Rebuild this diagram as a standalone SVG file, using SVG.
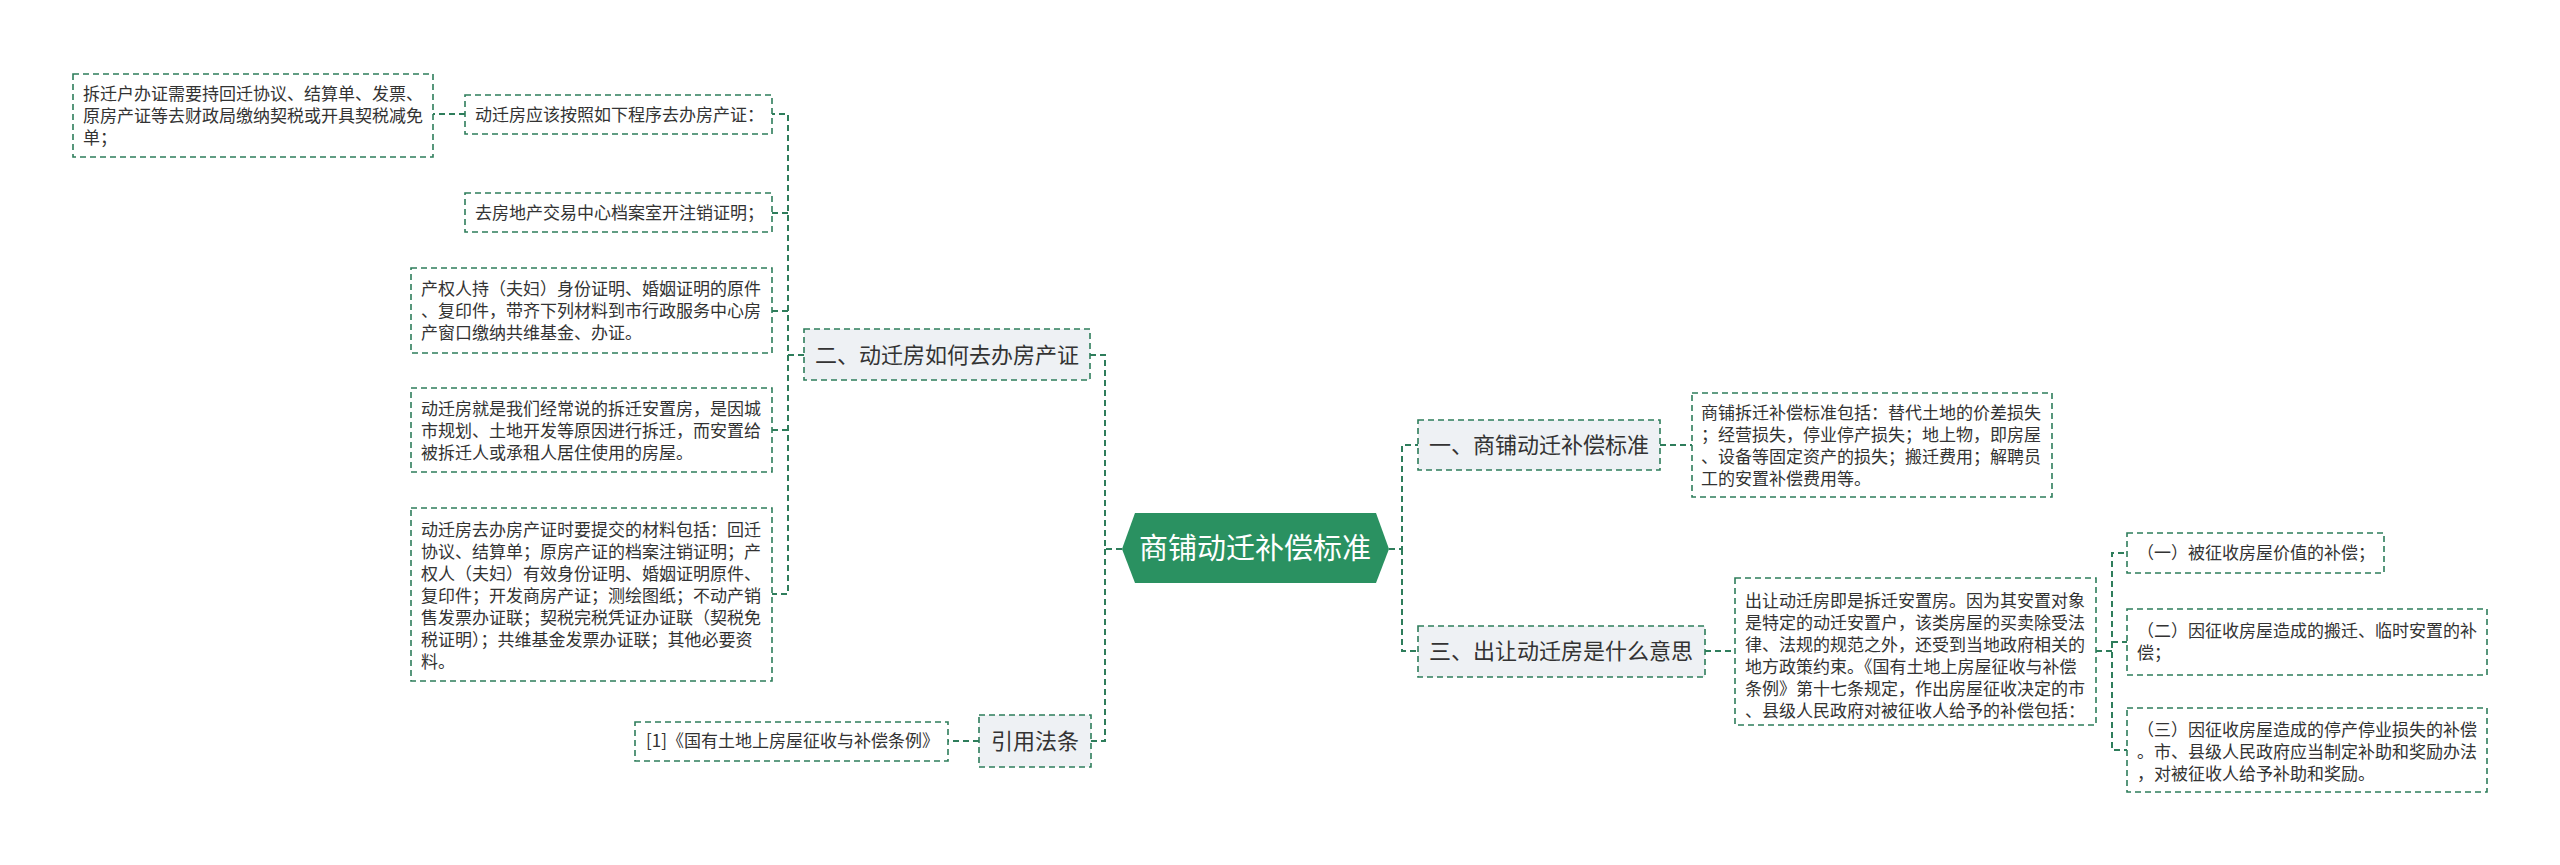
<svg xmlns="http://www.w3.org/2000/svg" width="2560" height="865" viewBox="0 0 2560 865">
<style>
text{font-family:"Noto Sans CJK SC","Noto Sans",sans-serif;fill:#333}
.leaf{fill:#fff;stroke:#2e7d5b;stroke-width:1.6;stroke-dasharray:6 4}
.sub{fill:#eef1f4;stroke:#2e7d5b;stroke-width:1.6;stroke-dasharray:6 4}
.conn{fill:none;stroke:#2e7d5b;stroke-width:2;stroke-dasharray:6 4}
.t17{font-size:17px}
.t22{font-size:22px}
.root{font-size:29px;fill:#fff}
</style>
<rect width="2560" height="865" fill="#fff"/>
<g id="connectors">
<path class="conn" d="M1122,549 H1105 V355 H1090"/>
<path class="conn" d="M1105,549 V741 H1091"/>
<path class="conn" d="M1389,549 H1402 V445 H1418"/>
<path class="conn" d="M1402,549 V651 H1418"/>
<path class="conn" d="M804,355 H788 V114 H772"/>
<path class="conn" d="M788,213 H772 M788,311 H772 M788,430 H772"/>
<path class="conn" d="M788,355 V594 H772"/>
<path class="conn" d="M465,114 H433"/>
<path class="conn" d="M979,741 H948"/>
<path class="conn" d="M1660,445 H1692"/>
<path class="conn" d="M1705,651 H1735"/>
<path class="conn" d="M2096,651 H2112 V553 H2127"/>
<path class="conn" d="M2112,642 H2127"/>
<path class="conn" d="M2112,642 V750 H2127"/>
</g>
<g id="root">
<polygon points="1122,549 1135,513 1376,513 1389,549 1376,583 1135,583" fill="#2a9161"/>
<text class="root" x="1255" y="559" text-anchor="middle">商铺动迁补偿标准</text>
</g>
<g id="n2">
<rect class="sub" x="804" y="329" width="286" height="51"/>
<text class="t22" x="947" y="363" text-anchor="middle">二、动迁房如何去办房产证</text>
</g>
<g id="ncite">
<rect class="sub" x="979" y="715" width="112" height="52"/>
<text class="t22" x="1035" y="749" text-anchor="middle">引用法条</text>
</g>
<g id="n1">
<rect class="sub" x="1418" y="420" width="242" height="50"/>
<text class="t22" x="1539" y="453" text-anchor="middle">一、商铺动迁补偿标准</text>
</g>
<g id="n3">
<rect class="sub" x="1418" y="626" width="287" height="51"/>
<text class="t22" x="1561" y="659" text-anchor="middle">三、出让动迁房是什么意思</text>
</g>
<g id="leaf0">
<rect class="leaf" x="73" y="74" width="360" height="83"/>
<text class="t17" x="83" y="100">拆迁户办证需要持回迁协议、结算单、发票、</text>
<text class="t17" x="83" y="122">原房产证等去财政局缴纳契税或开具契税减免</text>
<text class="t17" x="83" y="144">单；</text>
</g>
<g id="leaf1">
<rect class="leaf" x="465" y="95" width="307" height="39"/>
<text class="t17" x="475" y="121">动迁房应该按照如下程序去办房产证：</text>
</g>
<g id="leaf2">
<rect class="leaf" x="465" y="193" width="307" height="39"/>
<text class="t17" x="475" y="219">去房地产交易中心档案室开注销证明；</text>
</g>
<g id="leaf3">
<rect class="leaf" x="411" y="268" width="361" height="85"/>
<text class="t17" x="421" y="295">产权人持（夫妇）身份证明、婚姻证明的原件</text>
<text class="t17" x="421" y="317">、复印件，带齐下列材料到市行政服务中心房</text>
<text class="t17" x="421" y="339">产窗口缴纳共维基金、办证。</text>
</g>
<g id="leaf4">
<rect class="leaf" x="411" y="388" width="361" height="84"/>
<text class="t17" x="421" y="415">动迁房就是我们经常说的拆迁安置房，是因城</text>
<text class="t17" x="421" y="437">市规划、土地开发等原因进行拆迁，而安置给</text>
<text class="t17" x="421" y="459">被拆迁人或承租人居住使用的房屋。</text>
</g>
<g id="leaf5">
<rect class="leaf" x="411" y="508" width="361" height="173"/>
<text class="t17" x="421" y="536">动迁房去办房产证时要提交的材料包括：回迁</text>
<text class="t17" x="421" y="558">协议、结算单；原房产证的档案注销证明；产</text>
<text class="t17" x="421" y="580">权人（夫妇）有效身份证明、婚姻证明原件、</text>
<text class="t17" x="421" y="602">复印件；开发商房产证；测绘图纸；不动产销</text>
<text class="t17" x="421" y="624">售发票办证联；契税完税凭证办证联（契税免</text>
<text class="t17" x="421" y="646">税证明）；共维基金发票办证联；其他必要资</text>
<text class="t17" x="421" y="668">料。</text>
</g>
<g id="leafcite">
<rect class="leaf" x="635" y="722" width="313" height="39"/>
<text class="t17" x="646" y="747">[1]《国有土地上房屋征收与补偿条例》</text>
</g>
<g id="leafA">
<rect class="leaf" x="1692" y="393" width="360" height="104"/>
<text class="t17" x="1701" y="419">商铺拆迁补偿标准包括：替代土地的价差损失</text>
<text class="t17" x="1701" y="441">；经营损失，停业停产损失；地上物，即房屋</text>
<text class="t17" x="1701" y="463">、设备等固定资产的损失；搬迁费用；解聘员</text>
<text class="t17" x="1701" y="485">工的安置补偿费用等。</text>
</g>
<g id="leafB">
<rect class="leaf" x="1735" y="578" width="361" height="147"/>
<text class="t17" x="1745" y="607">出让动迁房即是拆迁安置房。因为其安置对象</text>
<text class="t17" x="1745" y="629">是特定的动迁安置户，该类房屋的买卖除受法</text>
<text class="t17" x="1745" y="651">律、法规的规范之外，还受到当地政府相关的</text>
<text class="t17" x="1745" y="673">地方政策约束。《国有土地上房屋征收与补偿</text>
<text class="t17" x="1745" y="695">条例》第十七条规定，作出房屋征收决定的市</text>
<text class="t17" x="1745" y="717">、县级人民政府对被征收人给予的补偿包括：</text>
</g>
<g id="c1">
<rect class="leaf" x="2127" y="533" width="257" height="40"/>
<text class="t17" x="2137" y="559">（一）被征收房屋价值的补偿；</text>
</g>
<g id="c2">
<rect class="leaf" x="2127" y="609" width="360" height="66"/>
<text class="t17" x="2137" y="637">（二）因征收房屋造成的搬迁、临时安置的补</text>
<text class="t17" x="2137" y="659">偿；</text>
</g>
<g id="c3">
<rect class="leaf" x="2127" y="708" width="360" height="84"/>
<text class="t17" x="2137" y="736">（三）因征收房屋造成的停产停业损失的补偿</text>
<text class="t17" x="2137" y="758">。市、县级人民政府应当制定补助和奖励办法</text>
<text class="t17" x="2137" y="780">，对被征收人给予补助和奖励。</text>
</g>
</svg>
